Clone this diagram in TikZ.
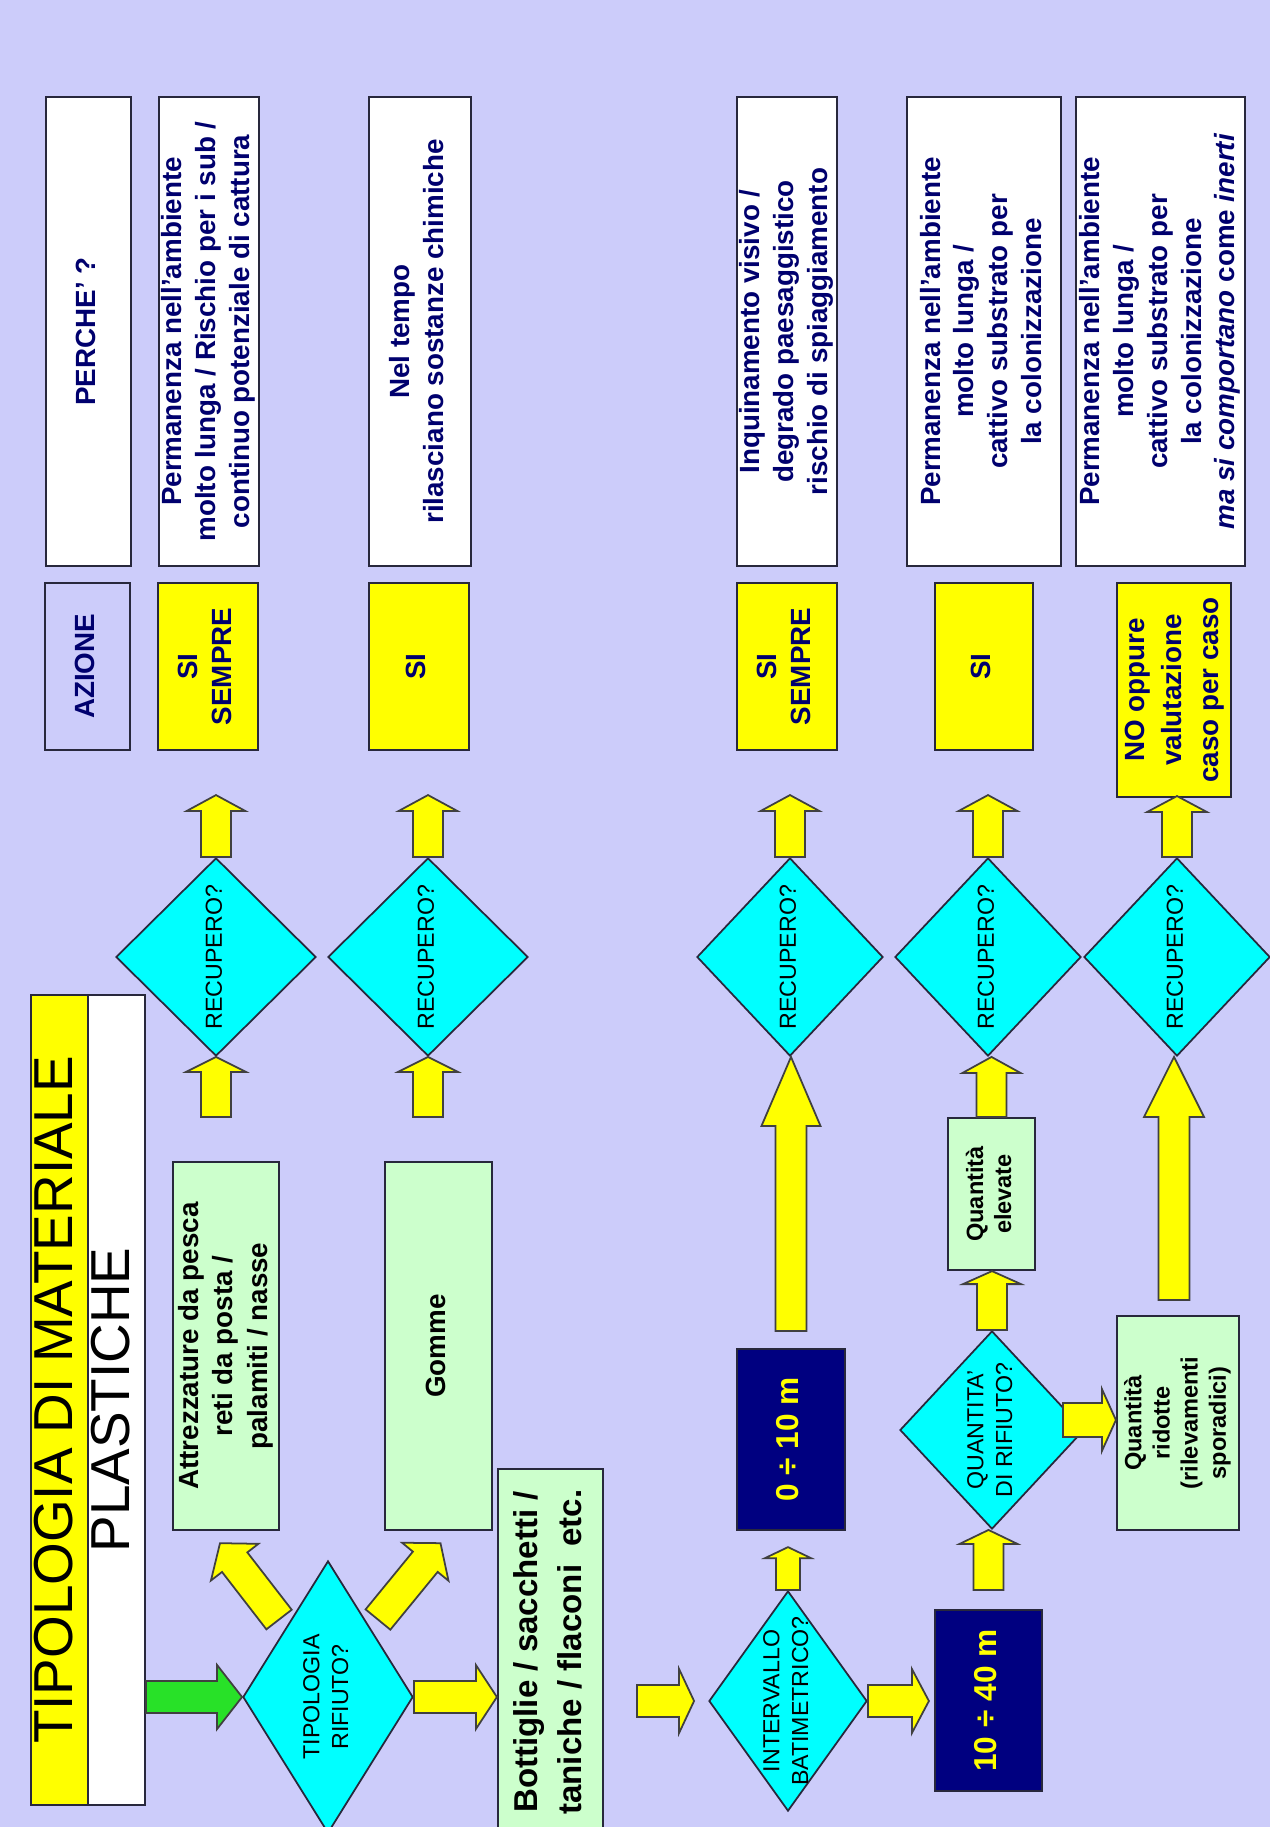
\documentclass[tikz,border=0pt]{standalone}
\usepackage{fontspec}
\setmainfont{Liberation Sans}
\usepackage{graphicx}
\usetikzlibrary{positioning,calc,shapes.geometric}

\definecolor{bglav}{RGB}{204,204,250}
\definecolor{actyellow}{RGB}{255,255,0}
\definecolor{diacyan}{RGB}{0,255,255}
\definecolor{itemgreen}{RGB}{204,255,204}
\definecolor{depthnavy}{RGB}{0,0,128}
\definecolor{navytxt}{RGB}{0,0,110}
\definecolor{boxline}{RGB}{40,40,60}
\definecolor{arrgreen}{RGB}{40,225,40}

% text turned a quarter, centred, no size of its own
\newcommand{\vt}[1]{\makebox[0pt]{\smash{\raisebox{-0.5\height}{\rotatebox{90}{\begin{tabular}{@{}c@{}}#1\end{tabular}}}}}}

% wide arrow: [options]{tail}{tip}{half shaft}{half head}{head length}
\newcommand{\blockarrow}[6][]{%
  \coordinate (ba) at ($(#3)!#6!(#2)$);
  \filldraw[arrowbody,#1] ($(#2)!#4!90:(#3)$) -- ($(ba)!#4!-90:(#2)$) -- ($(ba)!#5!-90:(#2)$) -- (#3)
    -- ($(ba)!#5!90:(#2)$) -- ($(ba)!#4!90:(#2)$) -- ($(#2)!#4!-90:(#3)$) -- cycle;}

\tikzset{
  whybox/.style={draw=boxline, line width=0.6pt, fill=white, inner sep=0pt, text=navytxt, font=\fontsize{7.9pt}{9.6pt}\selectfont\bfseries},
  hdrbox/.style={whybox, fill=bglav},
  actbox/.style={whybox, fill=actyellow},
  itembox/.style={draw=boxline, line width=0.6pt, fill=itemgreen, inner sep=0pt, text=black, font=\fontsize{7.9pt}{9.8pt}\selectfont\bfseries},
  depthbox/.style={draw=boxline, line width=0.6pt, fill=depthnavy, inner sep=0pt, text=actyellow, font=\fontsize{9pt}{11pt}\selectfont\bfseries},
  decnode/.style={diamond, draw=boxline, line width=0.5pt, fill=diacyan, inner sep=0pt, text=black, font=\fontsize{6.6pt}{8.2pt}\selectfont},
  titlebox/.style={draw=boxline, line width=0.6pt, inner sep=0pt, text=black, font=\fontsize{15.6pt}{18pt}\selectfont},
  arrowbody/.style={fill=actyellow, draw=black!75, line width=0.5pt, line join=miter}
}

\begin{document}
\begin{tikzpicture}[x=0.01cm, y=-0.01cm]
\useasboundingbox (0,0) rectangle (1270,1827);
\clip (0,0) rectangle (1270,1827);
\fill[bglav] (0,0) rectangle (1270,1827);

% header column
\node[whybox, minimum width=0.85cm, minimum height=4.69cm] (perche) at (88.5,331.5) {\vt{PERCHE’ ?}};
\node[hdrbox, minimum width=0.85cm, minimum height=1.67cm] (azione) at (87.5,666.5) {\vt{AZIONE}};

% reasons
\node[whybox, minimum width=1cm, minimum height=4.69cm] (why1) at (209,331.5) {\vt{Permanenza nell’ambiente\\molto lunga / Rischio per i sub /\\continuo potenziale di cattura}};
\node[whybox, minimum width=1.02cm, minimum height=4.69cm] (why2) at (420,331.5) {\vt{Nel tempo\\rilasciano sostanze chimiche}};
\node[whybox, minimum width=1cm, minimum height=4.69cm] (why3) at (787,331.5) {\vt{Inquinamento visivo /\\degrado paesaggistico\\rischio di spiaggiamento}};
\node[whybox, minimum width=1.54cm, minimum height=4.69cm] (why4) at (984,331.5) {\vt{Permanenza nell’ambiente\\molto lunga /\\cattivo substrato per\\la colonizzazione}};
\node[whybox, minimum width=1.69cm, minimum height=4.69cm] (why5) at (1160.5,331.5) {\vt{Permanenza nell’ambiente\\molto lunga /\\cattivo substrato per\\la colonizzazione\\\textit{ma si comportano} come \textit{inerti}}};

% actions
\node[actbox, minimum width=1cm, minimum height=1.67cm] (act1) at (208,666.5) {\vt{SI\\SEMPRE}};
\node[actbox, minimum width=1cm, minimum height=1.67cm] (act2) at (419,666.5) {\vt{SI}};
\node[actbox, minimum width=1cm, minimum height=1.67cm] (act3) at (787,666.5) {\vt{SI\\SEMPRE}};
\node[actbox, minimum width=0.98cm, minimum height=1.67cm] (act4) at (984,666.5) {\vt{SI}};
\node[actbox, minimum width=1.14cm, minimum height=2.14cm, font=\fontsize{7.9pt}{10.6pt}\selectfont\bfseries] (act5) at (1174,690) {\vt{NO oppure\\valutazione\\caso per caso}};

% recupero?
\node[decnode, minimum width=2cm, minimum height=1.98cm] (dr1) at (216,957) {\vt{RECUPERO?}};
\node[decnode, minimum width=2cm, minimum height=1.98cm] (dr2) at (428,957) {\vt{RECUPERO?}};
\node[decnode, minimum width=1.86cm, minimum height=1.98cm] (dr3) at (790,957) {\vt{RECUPERO?}};
\node[decnode, minimum width=1.86cm, minimum height=1.98cm] (dr4) at (988,957) {\vt{RECUPERO?}};
\node[decnode, minimum width=1.86cm, minimum height=1.98cm] (dr5) at (1177,957) {\vt{RECUPERO?}};

% material
\node[titlebox, fill=actyellow, minimum width=0.57cm, minimum height=8.1cm] (ttl) at (59.5,1400) {\vt{TIPOLOGIA DI MATERIALE}};
\node[titlebox, fill=white, minimum width=0.57cm, minimum height=8.1cm] (pl) at (116.5,1400) {\vt{PLASTICHE}};
\node[decnode, minimum width=1.7cm, minimum height=2.72cm] (dt) at (328,1697) {\vt{TIPOLOGIA\\RIFIUTO?}};
\node[itembox, minimum width=1.06cm, minimum height=3.68cm] (attr) at (226,1346) {\vt{Attrezzature da pesca\\reti da posta /\\palamiti / nasse}};
\node[itembox, minimum width=1.07cm, minimum height=3.68cm] (gomme) at (438.5,1346) {\vt{Gomme}};
\node[itembox, minimum width=1.05cm, minimum height=3.66cm, font=\fontsize{9.4pt}{12.4pt}\selectfont\bfseries] (bott) at (550.5,1652) {\vt{Bottiglie / sacchetti /\\taniche / flaconi\ \ etc.}};

% depth and quantity
\node[decnode, minimum width=1.58cm, minimum height=2.2cm] (di) at (788,1701) {\vt{INTERVALLO\\BATIMETRICO?}};
\node[depthbox, minimum width=1.08cm, minimum height=1.81cm] (b010) at (791,1439.5) {\vt{0 ÷ 10 m}};
\node[depthbox, minimum width=1.07cm, minimum height=1.81cm] (b1040) at (988.5,1700.5) {\vt{10 ÷ 40 m}};
\node[decnode, minimum width=1.84cm, minimum height=1.98cm] (dq) at (992,1430) {\vt{QUANTITA’\\DI RIFIUTO?}};
\node[itembox, minimum width=0.87cm, minimum height=1.52cm, font=\fontsize{6.7pt}{8pt}\selectfont\bfseries] (elev) at (991.5,1194) {\vt{Quantità\\elevate}};
\node[itembox, minimum width=1.22cm, minimum height=2.14cm, font=\fontsize{6.7pt}{8pt}\selectfont\bfseries] (rid) at (1178,1423) {\vt{Quantità\\ridotte\\(rilevamenti\\sporadici)}};

% arrows to the actions
\coordinate (up1) at ($(dr1.north)+(0,-62)$);
\blockarrow{dr1.north}{up1}{0.15cm}{0.295cm}{0.16cm}
\coordinate (up2) at ($(dr2.north)+(0,-62)$);
\blockarrow{dr2.north}{up2}{0.15cm}{0.295cm}{0.16cm}
\coordinate (up3) at ($(dr3.north)+(0,-62)$);
\blockarrow{dr3.north}{up3}{0.15cm}{0.295cm}{0.16cm}
\coordinate (up4) at ($(dr4.north)+(0,-62)$);
\blockarrow{dr4.north}{up4}{0.15cm}{0.295cm}{0.16cm}
\coordinate (up5) at ($(dr5.north)+(0,-61)$);
\blockarrow{dr5.north}{up5}{0.15cm}{0.30cm}{0.16cm}

% arrows into recupero?
\coordinate (k1) at ($(dr1.south)+(0,60)$);
\blockarrow{k1}{dr1.south}{0.15cm}{0.30cm}{0.15cm}
\coordinate (k2) at ($(dr2.south)+(0,60)$);
\blockarrow{k2}{dr2.south}{0.15cm}{0.30cm}{0.15cm}
\coordinate (l3) at ($(b010.north)+(0,-17)$);
\coordinate (l3e) at (l3 |- dr3.south);
\blockarrow{l3}{l3e}{0.155cm}{0.295cm}{0.69cm}
\coordinate (e1) at (elev.north |- dr4.south);
\blockarrow{elev.north}{e1}{0.15cm}{0.29cm}{0.16cm}
\coordinate (l5) at ($(rid.north)+(-4,-15)$);
\coordinate (l5e) at (l5 |- dr5.south);
\blockarrow{l5}{l5e}{0.155cm}{0.30cm}{0.60cm}

% material flow
\coordinate (g0) at (pl.east |- dt.west);
\blockarrow[fill=arrgreen]{g0}{dt.west}{0.16cm}{0.32cm}{0.25cm}
\coordinate (d1s) at ($(dt.north west)+(-6,-9)$);
\coordinate (d1e) at ($(attr.south)+(-6,12)$);
\blockarrow{d1s}{d1e}{0.16cm}{0.30cm}{0.24cm}
\coordinate (d2s) at ($(dt.north east)+(7,-9)$);
\coordinate (d2e) at ($(gomme.south)+(2,12)$);
\blockarrow{d2s}{d2e}{0.16cm}{0.30cm}{0.24cm}
\coordinate (b0) at (bott.west |- dt.east);
\blockarrow{dt.east}{b0}{0.16cm}{0.32cm}{0.21cm}
\coordinate (i0) at ($(di.west)+(-71,0)$);
\coordinate (i1) at ($(di.west)+(-14,0)$);
\blockarrow{i0}{i1}{0.16cm}{0.32cm}{0.15cm}
\coordinate (m0) at ($(b1040.west |- di.east)+(-5,0)$);
\blockarrow{di.east}{m0}{0.16cm}{0.32cm}{0.17cm}
\coordinate (s0) at ($(b010.south)+(0,16)$);
\coordinate (s1) at (di.north |- s0);
\blockarrow{di.north}{s1}{0.12cm}{0.23cm}{0.11cm}
\coordinate (q0) at ($(b1040.north)+(0,-19)$);
\coordinate (q1) at (q0 |- dq.south);
\blockarrow{q0}{q1}{0.15cm}{0.29cm}{0.14cm}
\coordinate (e0) at (dq.north |- elev.south);
\blockarrow{dq.north}{e0}{0.15cm}{0.29cm}{0.13cm}
\coordinate (r0) at ($(dq.east)+(-22,-10)$);
\coordinate (r1) at (rid.west |- r0);
\blockarrow{r0}{r1}{0.17cm}{0.31cm}{0.14cm}
\end{tikzpicture}
\end{document}
